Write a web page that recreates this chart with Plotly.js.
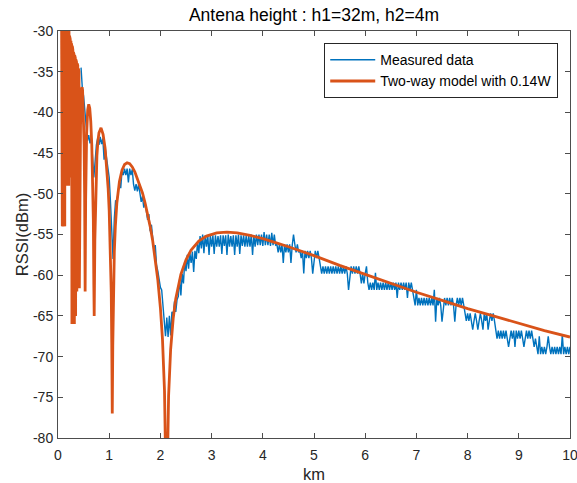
<!DOCTYPE html>
<html>
<head>
<meta charset="utf-8">
<script src="https://cdn.plot.ly/plotly-3.0.1.min.js"></script>
<style>
  html, body { margin: 0; padding: 0; background: #ffffff; }
  #chart { width: 577px; height: 483px; }
</style>
</head>
<body>
<div id="chart"></div>
<script>
// ---------------- data ----------------
const chartTitle = "Antena height : h1=32m, h2=4m";
const xAxisTitle = "km";
const yAxisTitle = "RSSI(dBm)";
const seriesNames = ["Measured data", "Two-way model with 0.14W"];

const xTickValues = [0, 1, 2, 3, 4, 5, 6, 7, 8, 9, 10];
const xTickLabels = ["0", "1", "2", "3", "4", "5", "6", "7", "8", "9", "10"];
const yTickValues = [-80, -75, -70, -65, -60, -55, -50, -45, -40, -35, -30];
const yTickLabels = ["-80", "-75", "-70", "-65", "-60", "-55", "-50", "-45", "-40", "-35", "-30"];

// measured RSSI, sampled every 0.025 km from 0.45 km to 10 km
const measuredStartKm = 0.45;
const measuredStepKm = 0.025;
const measuredDbm = [
  -34.5, -37, -38, -40, -42, -43.5, -42.8, -43.8, -43, -45,
  -48, -46, -44, -43.2, -44, -43, -43.9, -43.2, -45.8, -44.5,
  -45.5, -46.5, -48, -51, -55, -58, -53, -50.8, -51, -49.5,
  -48.5, -49.3, -47.2, -47.7, -46.9, -47.7, -46.9, -48.6, -46.9, -47.7,
  -47, -48.8, -49.6, -48.8, -49.7, -48.8, -50.2, -51, -50.3, -51.7,
  -51, -52.3, -53.2, -52.5, -54.6, -53.8, -55.5, -57, -56.3, -58.8,
  -59.5, -60.5, -61.5, -61.8, -63.8, -65, -67.5, -65.2, -67.6, -65,
  -67.4, -64.5, -65, -63.2, -64.5, -63, -62.6, -60.5, -62.5, -59.8,
  -61, -58.3, -59.5, -57.5, -59.2, -57.2, -58.5, -57.1, -59.6, -57,
  -58, -56, -57.3, -55.2, -56.7, -55, -57.3, -55.1, -56.5, -55.1,
  -57.5, -55.1, -56.5, -55.1, -57.4, -55.1, -56.5, -55.2, -56.5, -55.1,
  -57.4, -55.1, -56.4, -55.1, -57.5, -55, -56.5, -55.2, -56.5, -55.1,
  -57.5, -55.1, -56.5, -55, -57.4, -55.1, -56.4, -55.1, -56.5, -55.2,
  -56.5, -55.1, -56.5, -55, -57.5, -55.1, -56.5, -55, -56.3, -55,
  -56.3, -55, -56.4, -54.7, -56.3, -55, -56.3, -55, -56.4, -54.8,
  -56.3, -55, -56.3, -56.2, -57.2, -56.2, -57.2, -56.2, -58.5, -56.2,
  -57.2, -56.2, -57.2, -56.2, -58.5, -56.3, -55, -56.2, -57.2, -56.2,
  -57.2, -57, -57.9, -57, -59.8, -57, -57.9, -57, -57.9, -57,
  -57.9, -59.8, -57.9, -57, -57.9, -57, -57.9, -59, -59.8, -58.9,
  -59.8, -58.9, -59.8, -58.9, -59.8, -58.9, -59.8, -58.9, -59.8, -58.9,
  -59.8, -58.9, -59.8, -58.9, -59.8, -58.9, -59.8, -58.9, -59.8, -61.8,
  -59.8, -58.9, -59.8, -58.9, -59.8, -58.9, -59.8, -58.9, -59.8, -61,
  -59.8, -61, -59.8, -58.9, -60.9, -61.8, -60.9, -61.8, -60.9, -61.8,
  -59.7, -61.8, -60.9, -61.8, -60.9, -61.8, -60.9, -61.8, -60.9, -61.8,
  -60.9, -61.8, -60.9, -61.8, -60.9, -61.8, -60.9, -62.8, -60.9, -61.8,
  -60.9, -61.8, -60.9, -61.8, -60.9, -62.8, -60.9, -61.8, -60.9, -61.8,
  -62.8, -63.7, -61.8, -63.7, -62.8, -63.7, -62.8, -63.7, -62.8, -63.7,
  -62.8, -63.7, -62.8, -63.7, -62.8, -63.7, -61.8, -65.7, -62.8, -63.7,
  -62.8, -63.7, -65.7, -63.7, -62.8, -63.7, -62.8, -63.7, -62.8, -63.7,
  -62.8, -63.7, -65.7, -63.7, -62.8, -63.7, -62.8, -63.7, -62.8, -63.7,
  -64.7, -65.6, -64.7, -65.6, -64.7, -65.6, -66.7, -65.6, -64.7, -65.6,
  -66.7, -65.6, -64.7, -65.6, -66.7, -64.7, -65.6, -64.7, -66.7, -65.6,
  -64.7, -65.6, -64.7, -65.6, -66.8, -67.8, -66.8, -67.8, -66.8, -67.8,
  -66.8, -67.8, -66.8, -67.8, -68.8, -67.8, -66.8, -67.8, -66.8, -68.8,
  -66.8, -67.8, -66.8, -67.8, -66.8, -67.8, -68.8, -67.8, -66.8, -67.8,
  -66.8, -67.8, -66.8, -67.8, -68.8, -67.8, -68.8, -69.7, -67.5, -69.7,
  -68.8, -69.7, -68.8, -69.7, -68.8, -67.5, -68.8, -69.7, -68.8, -69.7,
  -68.8, -69.7, -68.8, -69.7, -68.8, -69.7, -67.3, -69.7, -68.8, -69.7,
  -68.8, -69.7, -68.8
];

// two-way model curve
// (close to the transmitter the curve swings between peak and null many times)
const modelKm = [
  0.068, 0.072, 0.076, 0.080, 0.084, 0.088, 0.092, 0.096, 0.100, 0.104,
  0.108, 0.112, 0.116, 0.120, 0.124, 0.128, 0.132, 0.136, 0.140, 0.145,
  0.150, 0.155, 0.160, 0.165, 0.170, 0.175, 0.180, 0.185, 0.190, 0.195,
  0.200, 0.205, 0.210, 0.215, 0.220, 0.225, 0.232, 0.239, 0.246, 0.253,
  0.260, 0.266, 0.272, 0.278, 0.284, 0.290, 0.296, 0.302, 0.308, 0.314,
  0.320, 0.326, 0.332, 0.338, 0.344, 0.350, 0.356, 0.362, 0.368, 0.374,
  0.380, 0.386, 0.392, 0.398, 0.404, 0.410, 0.417,
  0.43, 0.44, 0.46, 0.4711, 0.48, 0.50, 0.51, 0.52, 0.53, 0.54, 0.55, 0.56,
  0.58, 0.60, 0.62, 0.64, 0.66, 0.68, 0.69, 0.70, 0.707, 0.72, 0.74, 0.76,
  0.78, 0.80, 0.84, 0.88, 0.92, 0.96, 0.98, 1.00, 1.02, 1.04, 1.05, 1.06,
  1.07, 1.08, 1.10, 1.12, 1.15, 1.20, 1.25, 1.30, 1.35, 1.40, 1.45, 1.50,
  1.55, 1.60, 1.65, 1.70, 1.75, 1.80, 1.85, 1.90, 1.95, 2.00, 2.04, 2.08,
  2.12, 2.16, 2.20, 2.25, 2.30, 2.40, 2.50, 2.60, 2.75, 2.90, 3.10, 3.30,
  3.50, 3.75, 4.00, 4.25, 4.50, 5.00, 5.50, 6.00, 6.50, 7.00, 7.50, 8.00,
  8.50, 9.00, 9.50, 10.0
];
const modelDbm = [
  -25, -25, -52, -25, -54, -25, -53, -25, -54, -25,
  -52, -25, -54, -25, -53, -25, -54, -25, -45, -25,
  -43, -25, -44, -25, -48, -26, -49, -27, -49, -28,
  -48, -29, -49, -30, -48, -30.6, -44, -31, -43, -31.2,
  -45, -31.5, -66, -31.8, -65, -32.3, -66, -32.6, -65, -32.9,
  -66, -33.0, -64, -33.3, -65, -33.5, -63, -33.8, -62, -34.0,
  -61.5, -34.2, -61.5, -34.6, -61.5, -35.0, -61.6,
  -49.3, -41.6, -37.2, -36.9, -37.3, -40.7, -44.0, -50.1, -62, -50.8, -45.3, -42.5,
  -39.7, -39.0, -39.5, -41.1, -44.0, -48.9, -53.1, -61.3, -65, -55.7, -48.5, -45.3,
  -43.5, -42.5, -41.9, -42.7, -44.4, -47.4, -49.4, -52.1, -55.8, -62.1, -68.3, -77,
  -68.6, -62.8, -57.1, -54.0, -51.1, -48.5, -47.1, -46.4, -46.2, -46.3, -46.7, -47.3,
  -48.1, -48.9, -49.9, -51.1, -52.5, -54.0, -55.8, -58.0, -60.6, -64.0, -67.8, -74.2,
  -90, -74.8, -69.1, -65.3, -62.9, -59.9, -58.1, -56.9, -55.8, -55.2, -54.8, -54.7,
  -54.8, -55.1, -55.5, -56.0, -56.5, -57.6, -58.8, -59.9, -61.0, -62.1, -63.1, -64.1,
  -65.0, -65.9, -66.8, -67.6
];

// ---------------- drawing ----------------
const measuredKm = measuredDbm.map((_, i) => +(measuredStartKm + i * measuredStepKm).toFixed(3));

const fontFamily = '"Liberation Sans", Arial, Helvetica, sans-serif';
const textColor = '#262626';
const axisColor = '#4d4d4d';

const traces = [
  {
    x: measuredKm, y: measuredDbm, name: seriesNames[0],
    type: 'scatter', mode: 'lines',
    line: { color: '#0072BD', width: 1.4 }
  },
  {
    x: modelKm, y: modelDbm, name: seriesNames[1],
    type: 'scatter', mode: 'lines',
    line: { color: '#D95319', width: 2.8 }
  }
];

const axisCommon = {
  showline: true, linecolor: axisColor, linewidth: 1, mirror: 'ticks',
  ticks: 'inside', ticklen: 5, tickwidth: 1, tickcolor: axisColor,
  showgrid: false, zeroline: false, ticklabeloverflow: 'allow',
  tickfont: { family: fontFamily, size: 14, color: textColor }
};

const layout = {
  width: 577, height: 483,
  margin: { l: 58, r: 7, t: 31, b: 45, pad: 0 },
  paper_bgcolor: '#ffffff', plot_bgcolor: '#ffffff',
  showlegend: true,
  title: {
    text: chartTitle, x: 0.5441, xanchor: 'center', y: 0.97, yanchor: 'middle',
    font: { family: fontFamily, size: 17.5, color: '#000000' }
  },
  xaxis: Object.assign({}, axisCommon, {
    range: [0, 10], tickvals: xTickValues, ticktext: xTickLabels,
    ticklabelstandoff: 4,
    title: { text: xAxisTitle, standoff: 7, font: { family: fontFamily, size: 16.5, color: textColor } }
  }),
  yaxis: Object.assign({}, axisCommon, {
    range: [-80, -30], tickvals: yTickValues, ticktext: yTickLabels,
    ticklabelstandoff: 1,
    title: { text: yAxisTitle, standoff: 0, font: { family: fontFamily, size: 16.5, color: textColor } }
  }),
  legend: {
    x: 0.977, xanchor: 'right', y: 0.97, yanchor: 'top',
    bgcolor: '#ffffff', bordercolor: '#262626', borderwidth: 1,
    font: { family: fontFamily, size: 14, color: '#000000' },
    itemwidth: 45, tracegroupgap: 0
  },
  hovermode: false
};

Plotly.newPlot('chart', traces, layout, { displayModeBar: false, staticPlot: true });
</script>
</body>
</html>
